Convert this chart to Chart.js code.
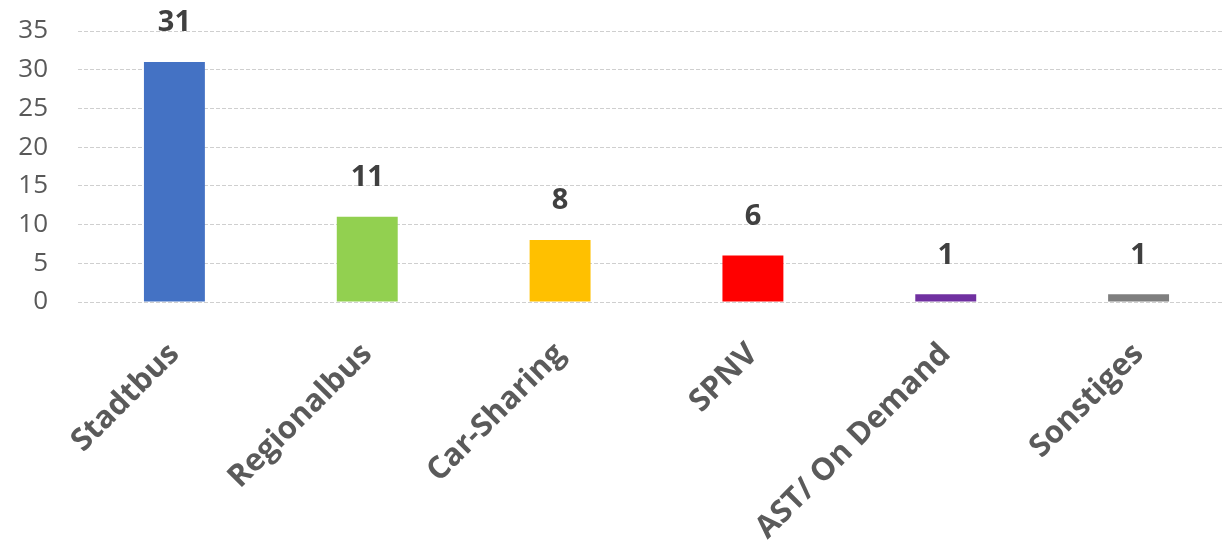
<!DOCTYPE html>
<html>
<head>
<meta charset="utf-8">
<script src="https://cdn.jsdelivr.net/npm/chart.js@4.4.1/dist/chart.umd.min.js"></script>
<style>
  html, body { margin: 0; padding: 0; background: #ffffff; overflow: hidden; width: 1223px; height: 547px; }
  #wrap { position: absolute; left: 0; top: 0; width: 1240px; height: 547px; }
</style>
</head>
<body>
<div id="wrap"><canvas id="c"></canvas></div>
<script>
const categories = ["Stadtbus", "Regionalbus", "Car-Sharing", "SPNV", "AST/ On Demand", "Sonstiges"];
const values = [31, 11, 8, 6, 1, 1];
const barColors = ["#4472C4", "#92D050", "#FFC000", "#FF0000", "#7030A0", "#7F7F7F"];
const yTicks = [0, 5, 10, 15, 20, 25, 30, 35];

const valueLabels = {
  id: "valueLabels",
  afterDatasetsDraw(chart) {
    const ctx = chart.ctx;
    const meta = chart.getDatasetMeta(0);
    ctx.save();
    ctx.font = "bold 29px 'Open Sans', 'DejaVu Sans', sans-serif";
    ctx.fillStyle = "#404040";
    ctx.textAlign = "center";
    ctx.textBaseline = "middle";
    meta.data.forEach((bar, i) => {
      ctx.fillText(String(values[i]), bar.x, bar.y - 39);
    });
    ctx.restore();
  }
};

new Chart(document.getElementById("c"), {
  type: "bar",
  data: {
    labels: categories,
    datasets: [{
      data: values,
      backgroundColor: barColors,
      borderWidth: 0,
      barPercentage: 0.316,
      categoryPercentage: 1.0
    }]
  },
  options: {
    responsive: true,
    maintainAspectRatio: false,
    animation: false,
    layout: { padding: { top: 0, right: 5, left: 0, bottom: 0 } },
    plugins: { legend: { display: false }, tooltip: { enabled: false } },
    scales: {
      x: {
        grid: { display: false, drawTicks: false },
        border: { display: false },
        ticks: {
          autoSkip: false,
          minRotation: 45,
          maxRotation: 45,
          padding: 34,
          color: "#5a5a5a",
          font: { family: "'Open Sans', 'DejaVu Sans', sans-serif", size: 31, weight: "bold" }
        },
        afterFit(scale) { scale.height = 245; scale.paddingLeft = 0; scale.paddingRight = 0; }
      },
      y: {
        min: 0,
        max: 35,
        afterBuildTicks(scale) { scale.ticks = yTicks.map(v => ({ value: v })); },
        grid: { color: "#cfcfcf", lineWidth: 1, drawTicks: false },
        border: { display: false, dash: [4, 2] },
        ticks: {
          padding: 30,
          color: "#595959",
          font: { family: "'Open Sans', 'DejaVu Sans', sans-serif", size: 26 }
        },
        afterFit(scale) { scale.width = 78; scale.paddingTop = 31; scale.paddingBottom = 0; }
      }
    }
  },
  plugins: [valueLabels]
});
</script>
</body>
</html>
